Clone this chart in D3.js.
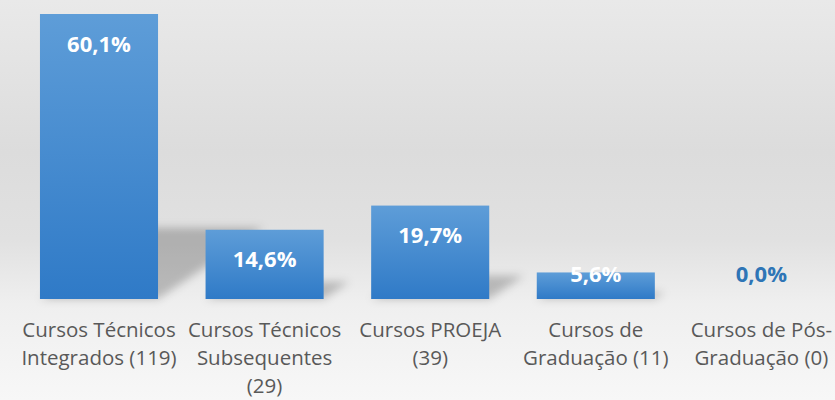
<!DOCTYPE html>
<html>
<head>
<meta charset="utf-8">
<script src="https://cdn.jsdelivr.net/npm/d3@7"></script>
<style>
	html, body { margin: 0; padding: 0; background: #f5f5f5; }
	svg { display: block; }
</style>
</head>
<body>
<svg id="chart"></svg>
<script>
// chart data
const categories = [
	['Cursos Técnicos', 'Integrados (119)'],
	['Cursos Técnicos', 'Subsequentes', '(29)'],
	['Cursos PROEJA', '(39)'],
	['Cursos de', 'Graduação (11)'],
	['Cursos de Pós-', 'Graduação (0)']
];
const percents = [60.1, 14.6, 19.7, 5.6, 0.0];

const width = 835;
const height = 400;
const baseline = 299;

const ptBR = d3.formatLocale({decimal: ',', thousands: '.', grouping: [3], currency: ['R$', '']});
const fmt = ptBR.format('.1f');

let svg = d3.select('#chart')
	.attr('width', width)
	.attr('height', height);

let defs = svg.append('defs');

let bg = defs.append('linearGradient')
	.attr('id', 'bg')
	.attr('x1', 0).attr('y1', 0).attr('x2', 0).attr('y2', 1);
[[0, '#e9e9e9'], [0.38, '#dcdcdc'], [0.6, '#e1e1e1'], [0.76, '#efefef'], [1, '#f7f7f7']]
	.forEach(s => bg.append('stop').attr('offset', s[0]).attr('stop-color', s[1]));

let barFill = defs.append('linearGradient')
	.attr('id', 'barFill')
	.attr('x1', 0).attr('y1', 0).attr('x2', 0).attr('y2', 1);
barFill.append('stop').attr('offset', 0).attr('stop-color', '#5e9dd8');
barFill.append('stop').attr('offset', 1).attr('stop-color', '#2f7ac7');

defs.append('filter')
	.attr('id', 'blur')
	.attr('x', '-50%').attr('y', '-50%').attr('width', '200%').attr('height', '200%')
	.append('feGaussianBlur')
	.attr('stdDeviation', 4);

svg.append('rect')
	.attr('width', width)
	.attr('height', height)
	.attr('fill', 'url(#bg)');

let x = d3.scaleBand()
	.domain(d3.range(percents.length))
	.range([16.2, 844.2])
	.paddingInner(0.287)
	.paddingOuter(0.1435);

let y = d3.scaleLinear()
	.domain([0, 60.1])
	.range([baseline, 14]);

// perspective shadows behind the bars
svg.append('g')
	.attr('filter', 'url(#blur)')
	.selectAll('path')
	.data(percents)
	.enter()
	.append('path')
	.attr('fill', 'rgba(0,0,0,0.22)')
	.attr('d', (d, i) => {
		let h = y(0) - y(d);
		let x0 = x(i), x1 = x(i) + x.bandwidth();
		let s = 0.37 * h, k = 0.25 * h;
		return `M${x0},${baseline}L${x1},${baseline}L${x1 + s},${baseline - k}L${x0 + s},${baseline - k}Z`;
	});

// bars
svg.append('g')
	.selectAll('rect')
	.data(percents)
	.enter()
	.append('rect')
	.attr('x', (d, i) => x(i))
	.attr('y', d => y(d))
	.attr('width', x.bandwidth())
	.attr('height', d => y(0) - y(d))
	.attr('fill', 'url(#barFill)');

// value labels
svg.append('g')
	.selectAll('text')
	.data(percents)
	.enter()
	.append('text')
	.attr('x', (d, i) => x(i) + x.bandwidth() / 2)
	.attr('y', d => Math.min(y(d) + 37.5, baseline - 17))
	.attr('text-anchor', 'middle')
	.attr('font-family', '"Open Sans", sans-serif')
	.attr('font-weight', 'bold')
	.attr('font-size', '22px')
	.attr('fill', d => d > 0 ? '#ffffff' : '#2e75b6')
	.text(d => fmt(d) + '%');

// category labels
let cats = svg.append('g')
	.selectAll('text')
	.data(categories)
	.enter()
	.append('text')
	.attr('text-anchor', 'middle')
	.attr('font-family', '"Open Sans", sans-serif')
	.attr('font-size', '20.5px')
	.attr('fill', '#595959');

cats.selectAll('tspan')
	.data((d, i) => d.map(line => ({line, i})))
	.enter()
	.append('tspan')
	.attr('x', d => x(d.i) + x.bandwidth() / 2)
	.attr('y', (d, j) => 337 + j * 28)
	.text(d => d.line);
</script>
</body>
</html>
